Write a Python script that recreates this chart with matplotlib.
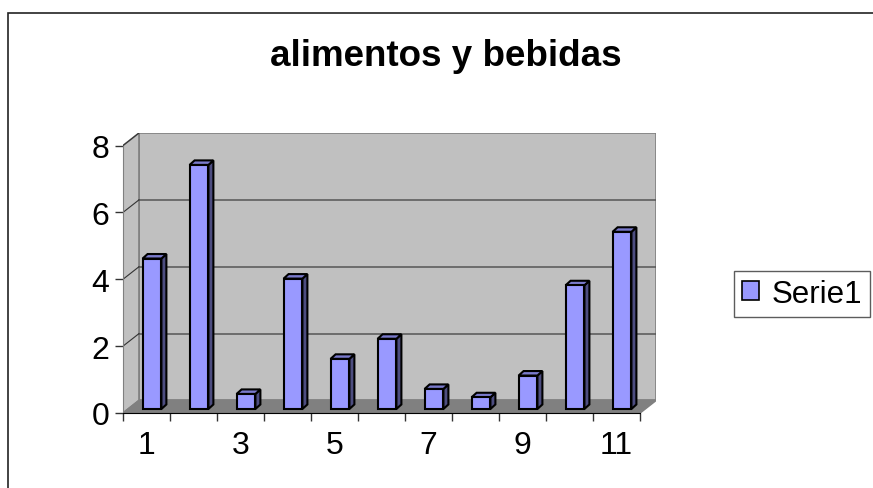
import matplotlib.pyplot as plt
from matplotlib.patches import Polygon, Patch, Rectangle

plt.rcParams['font.family'] = ['Liberation Sans', 'DejaVu Sans']

# Data
categories = list(range(1, 12))
values = [4.5, 7.3, 0.45, 3.9, 1.5, 2.1, 0.6, 0.35, 1.0, 3.7, 5.3]
series_name = 'Serie1'
title = 'alimentos y bebidas'
yticks = [0, 2, 4, 6, 8]
xlabels = [1, 3, 5, 7, 9, 11]

# 3D look parameters (in data units)
DX, DY = 0.34, 0.375          # depth of the walls
BW = 0.40                     # bar width
BDX, BDY = 0.106, 0.135       # bar depth
OX, OY = (DX - BDX) / 2, (DY - BDY) / 2
YMAX = 8
x0, x1 = 0.5, len(categories) + 0.5

wall = '#C0C0C0'
floor = '#808080'
edge_grey = '#808080'
front_c, top_c, side_c = '#9999FF', '#7A7ACC', '#4D4D80'

fig = plt.figure(figsize=(8.73, 4.89), dpi=100)
ax = fig.add_axes([123 / 873, 75 / 489, 533 / 873, 280 / 489])
ax.set_xlim(x0, x1 + DX)
ax.set_ylim(0, YMAX + DY)
ax.set_facecolor('none')

# back wall
ax.add_patch(Polygon([(x0 + DX, DY), (x1 + DX, DY), (x1 + DX, YMAX + DY), (x0 + DX, YMAX + DY)],
                     closed=True, facecolor=wall, edgecolor=edge_grey, lw=1.2, zorder=1))
# side wall
ax.add_patch(Polygon([(x0, 0), (x0 + DX, DY), (x0 + DX, YMAX + DY), (x0, YMAX)],
                     closed=True, facecolor=wall, edgecolor=edge_grey, lw=1.2, zorder=1))
# floor
ax.add_patch(Polygon([(x0, 0), (x1, 0), (x1 + DX, DY), (x0 + DX, DY)],
                     closed=True, facecolor=floor, edgecolor=edge_grey, lw=1.2, zorder=1.5))

# gridlines
for v in yticks[1:-1]:
    ax.plot([x0 + DX, x1 + DX], [v + DY, v + DY], color='#555555', lw=1.1, zorder=1.2)
for v in yticks[1:]:
    ax.plot([x0, x0 + DX], [v, v + DY], color='#333333', lw=0.8, zorder=1.2)

# bars
for c, v in zip(categories, values):
    left = c - BW / 2 + OX
    right = c + BW / 2 + OX
    b = OY
    t = v + OY
    ax.add_patch(Polygon([(right, b), (right + BDX, b + BDY), (right + BDX, t + BDY), (right, t)],
                         closed=True, facecolor=side_c, edgecolor='black', lw=1.5, zorder=3))
    ax.add_patch(Polygon([(left, t), (right, t), (right + BDX, t + BDY), (left + BDX, t + BDY)],
                         closed=True, facecolor=top_c, edgecolor='black', lw=1.5, zorder=3))
    ax.add_patch(Rectangle((left, b), BW, v, facecolor=front_c, edgecolor='black', lw=1.5, zorder=3))

# axes styling
for s in ['top', 'right']:
    ax.spines[s].set_visible(False)
ax.spines['left'].set_bounds(0, YMAX)
ax.spines['left'].set_color(edge_grey)
ax.spines['bottom'].set_bounds(x0, x1)
ax.spines['bottom'].set_color('black')
ax.spines['left'].set_zorder(2)
ax.spines['bottom'].set_zorder(2)

ax.set_yticks(yticks)
ax.set_yticklabels([str(v) for v in yticks])
ax.set_xticks(xlabels)
ax.set_xticklabels([str(v) for v in xlabels])
ax.set_xticks([i + 0.5 for i in range(0, len(categories) + 1)], minor=True)
ax.tick_params(axis='y', length=6, width=1, color='#333333', labelsize=23, pad=4)
ax.tick_params(axis='x', which='major', length=0, labelsize=23, pad=12)
ax.tick_params(axis='x', which='minor', length=6, width=1, color='#333333')

# title
fig.text(446 / 873, 1 - 57 / 489, title, ha='center', va='center', fontsize=26.5, fontweight='bold')

# legend
leg = fig.legend(handles=[Patch(facecolor=front_c, edgecolor='black', lw=1.2, label=series_name)],
                 loc='upper left', bbox_to_anchor=(734 / 873, 1 - 272 / 489), borderaxespad=0,
                 fontsize=22.5, fancybox=False, frameon=True, handlelength=0.55, handleheight=0.55,
                 handletextpad=0.4, borderpad=0.25)
leg.get_frame().set_edgecolor('#333333')
leg.get_frame().set_linewidth(1.0)

# chart-area border
fig.add_artist(Rectangle((8 / 873, -0.1), 1.2, 1 - 14 / 489 + 0.1, transform=fig.transFigure,
                         facecolor='none', edgecolor='#222222', lw=1.2, clip_on=False))

fig.savefig('out.png', dpi=100)
